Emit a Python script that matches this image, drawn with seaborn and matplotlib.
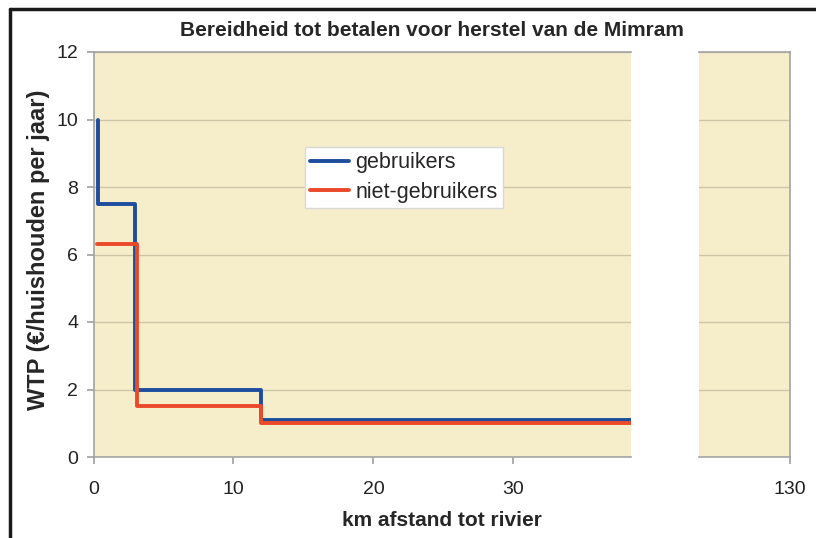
import numpy as np
import pandas as pd
import matplotlib
matplotlib.use("Agg")
import matplotlib.pyplot as plt
from matplotlib.lines import Line2D
import seaborn as sns

# step curves (km, WTP)
gebruikers_km = [0.3, 0.3, 3.0, 3.0, 12.0, 12.0, 38.4]
gebruikers_wtp = [10.0, 7.5, 7.5, 2.0, 2.0, 1.1, 1.1]
niet_km = [0.25, 3.1, 3.1, 12.0, 12.0, 38.4]
niet_wtp = [6.3, 6.3, 1.5, 1.5, 1.0, 1.0]

series_names = ["gebruikers", "niet-gebruikers"]
series_colors = ["#1f4d9e", "#ea4a2a"]
x_ticks_main = [0, 10, 20, 30]
x_ticks_tail = [130]
y_ticks = [0, 2, 4, 6, 8, 10, 12]

df = pd.concat([
    pd.DataFrame({"km": gebruikers_km, "wtp": gebruikers_wtp, "groep": series_names[0]}),
    pd.DataFrame({"km": niet_km, "wtp": niet_wtp, "groep": series_names[1]}),
], ignore_index=True)

sns.set_theme(style="white")
plt.rcParams["font.family"] = ["Liberation Sans", "DejaVu Sans"]

bg = "#f6eecb"
grid_c = "#ccc5a6"
spine_c = "#a3a3a3"
txt_c = "#222222"

fig = plt.figure(figsize=(8.16, 5.38), dpi=100)
ax = fig.add_axes([93.5 / 816, 81 / 538, (631 - 93.5) / 816, 405 / 538])
ax2 = fig.add_axes([699 / 816, 81 / 538, (790 - 699) / 816, 405 / 538])

for a in (ax, ax2):
    a.set_facecolor(bg)
    a.set_ylim(0, 12)
    a.set_yticks(y_ticks)
    a.grid(axis="y", color=grid_c, linewidth=1.0)
    a.set_axisbelow(True)
    for s in a.spines.values():
        s.set_color(spine_c)
        s.set_linewidth(1.2)

sns.lineplot(data=df, x="km", y="wtp", hue="groep", palette=series_colors,
             estimator=None, sort=False, linewidth=2.8, ax=ax)

ax.set_xlim(0, 38.4)
ax.set_xticks(x_ticks_main)
ax.spines["right"].set_visible(False)
ax.tick_params(axis="y", left=True, length=5, color=spine_c,
               labelsize=14, pad=6, labelcolor=txt_c)
ax.tick_params(axis="x", bottom=True, length=5, color=spine_c,
               labelsize=14, pad=12, labelcolor=txt_c)
ax.set_xlabel("")
ax.set_ylabel("WTP (€/huishouden per jaar)", fontsize=17, fontweight="bold")
ax.yaxis.set_label_coords(-0.081, 0.511)

ax2.set_xlim(123.5, 130)
ax2.set_xticks(x_ticks_tail)
ax2.set_yticklabels([])
ax2.spines["left"].set_visible(False)
ax2.tick_params(axis="y", left=False)
ax2.tick_params(axis="x", bottom=True, length=5, color=spine_c,
                labelsize=14, pad=12, labelcolor=txt_c)

leg = ax.legend(loc="upper left", bbox_to_anchor=(305 / 816, 1 - 147 / 538),
                bbox_transform=fig.transFigure, fontsize=15.5, frameon=True,
                fancybox=False, edgecolor="#d8d8d8", facecolor="white",
                framealpha=1.0, handlelength=1.8, handletextpad=0.3,
                borderpad=0.25, labelspacing=0.4, borderaxespad=0)
for h in leg.get_lines():
    h.set_linewidth(2.8)

fig.text(432 / 816, 1 - 30 / 538, "Bereidheid tot betalen voor herstel van de Mimram",
         ha="center", va="center", fontsize=15, fontweight="bold")
fig.text(442 / 816, 1 - 521 / 538, "km afstand tot rivier",
         ha="center", va="center", fontsize=15, fontweight="bold")

# black frame edges of the scanned figure
fig.add_artist(Line2D([10 / 816, 1], [1 - 9 / 538, 1 - 9 / 538], color="#1a1a1a",
                      linewidth=2.5, transform=fig.transFigure))
fig.add_artist(Line2D([10 / 816, 10 / 816], [0, 1 - 9 / 538], color="#1a1a1a",
                      linewidth=2.5, transform=fig.transFigure))

fig.savefig("out.png", dpi=100)
